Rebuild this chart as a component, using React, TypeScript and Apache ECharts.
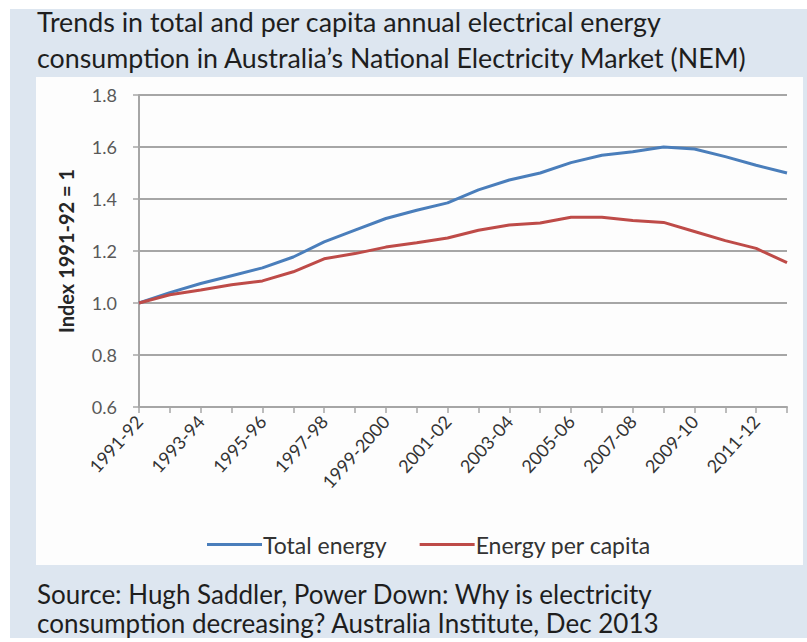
import React, { useEffect, useRef } from "react";
import * as echarts from "echarts";

// Financial years, 1991-92 through 2012-13
const years: string[] = [
  "1991-92", "1992-93", "1993-94", "1994-95", "1995-96", "1996-97",
  "1997-98", "1998-99", "1999-2000", "2000-01", "2001-02", "2002-03",
  "2003-04", "2004-05", "2005-06", "2006-07", "2007-08", "2008-09",
  "2009-10", "2010-11", "2011-12", "2012-13",
];

// Index values, 1991-92 = 1
const totalEnergy: number[] = [
  1.0, 1.04, 1.075, 1.105, 1.135, 1.177, 1.235, 1.28, 1.325, 1.357,
  1.385, 1.435, 1.473, 1.5, 1.54, 1.568, 1.582, 1.6, 1.592, 1.563,
  1.53, 1.5,
];
const energyPerCapita: number[] = [
  1.0, 1.032, 1.05, 1.07, 1.085, 1.12, 1.17, 1.19, 1.215, 1.232,
  1.25, 1.28, 1.3, 1.308, 1.33, 1.33, 1.317, 1.31, 1.275, 1.24,
  1.21, 1.155,
];

const yTicks = { min: 0.6, max: 1.8, interval: 0.2 };

const FONT = "Lato, 'Open Sans', sans-serif";

export default function App() {
  const ref = useRef<HTMLDivElement>(null);

  useEffect(() => {
    if (!ref.current) return;
    const chart = echarts.init(ref.current, undefined, { renderer: "svg" });
    chart.setOption({
      animation: false,
      backgroundColor: "#ffffff",
      textStyle: { fontFamily: FONT },
      graphic: [
        {
          type: "rect",
          z: -10,
          silent: true,
          shape: { x: 10, y: 9, width: 797, height: 629 },
          style: { fill: "#dde6f0" },
        },
        {
          type: "rect",
          z: -9,
          silent: true,
          shape: { x: 36, y: 77, width: 767, height: 488 },
          style: { fill: "#fdfdfd" },
        },
        {
          type: "text",
          left: 37,
          top: 4,
          style: {
            text:
              "Trends in total and per capita annual electrical energy\nconsumption in Australia\u2019s National Electricity Market (NEM)",
            font: `26.8px ${FONT}`,
            lineHeight: 36,
            fill: "#1e1e1e",
          },
        },
        {
          type: "text",
          left: 37,
          top: 579,
          style: {
            text:
              "Source: Hugh Saddler, Power Down: Why is electricity\nconsumption decreasing? Australia Institute, Dec 2013",
            font: `26px ${FONT}`,
            lineHeight: 29,
            fill: "#1e1e1e",
          },
        },
      ],
      legend: {
        bottom: 81,
        left: 202,
        itemWidth: 55,
        itemHeight: 3,
        itemGap: 33,
        icon: "rect",
        textStyle: { fontSize: 23, color: "#333", fontFamily: FONT, padding: [0, 0, 0, -4] },
        data: ["Total energy", "Energy per capita"],
      },
      grid: { left: 139, right: 20, top: 95, bottom: 235 },
      xAxis: {
        type: "category",
        data: years,
        boundaryGap: false,
        axisLine: { lineStyle: { color: "#a6a6a6", width: 2 } },
        axisTick: { show: true, interval: 0, length: 6, lineStyle: { color: "#a6a6a6", width: 1.5 } },
        axisLabel: {
          interval: 1,
          rotate: 48,
          fontSize: 18,
          color: "#333",
          margin: 11,
          fontFamily: FONT,
        },
        splitLine: { show: false },
      },
      yAxis: {
        type: "value",
        min: yTicks.min,
        max: yTicks.max,
        interval: yTicks.interval,
        name: "Index 1991-92 = 1",
        nameLocation: "middle",
        nameGap: 63,
        nameTextStyle: { fontSize: 20, fontWeight: "bold", color: "#262626", fontFamily: FONT },
        axisLine: { show: true, lineStyle: { color: "#a6a6a6", width: 2 } },
        axisTick: { show: true, length: 6, lineStyle: { color: "#a6a6a6", width: 1.5 } },
        axisLabel: {
          formatter: (v: number) => v.toFixed(1),
          fontSize: 18,
          color: "#595959",
          margin: 22,
          fontFamily: FONT,
        },
        splitLine: { lineStyle: { color: "#a6a6a6", width: 2 } },
      },
      series: [
        {
          name: "Total energy",
          type: "line",
          data: totalEnergy,
          symbol: "none",
          lineStyle: { color: "#4a7ebb", width: 3 },
          itemStyle: { color: "#4a7ebb" },
        },
        {
          name: "Energy per capita",
          type: "line",
          data: energyPerCapita,
          symbol: "none",
          lineStyle: { color: "#be4b48", width: 3 },
          itemStyle: { color: "#be4b48" },
        },
      ],
    });
    return () => chart.dispose();
  }, []);

  return (
    <div
      ref={ref}
      style={{ position: "fixed", left: 0, top: 0, width: 807, height: 642 }}
    />
  );
}
